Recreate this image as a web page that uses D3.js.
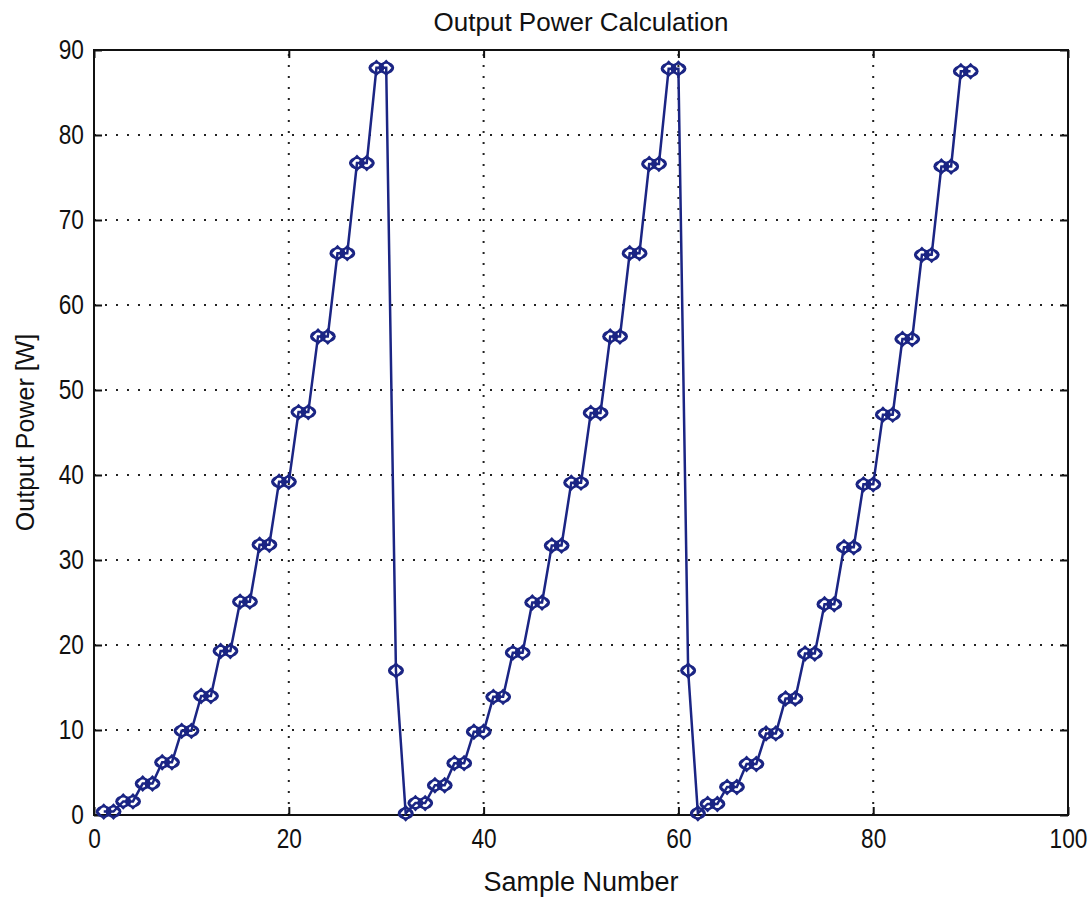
<!DOCTYPE html>
<html lang="en">
<head>
  <meta charset="UTF-8">
  <title>Output Power Calculation</title>
  <script src="https://d3js.org/d3.v7.min.js"></script>
  <style>
    body { margin: 0; background: #fff; }
    text { font-family: "Liberation Sans", Arial, sans-serif; fill: #111; }
  </style>
</head>
<body>
  <script>
    // output power per sample (samples are 1..90)
    const power = [
      0.4, 0.4, 1.6, 1.6, 3.7, 3.7, 6.2, 6.2, 9.9, 9.9,
      14.0, 14.0, 19.3, 19.3, 25.1, 25.1, 31.8, 31.8, 39.2, 39.2,
      47.4, 47.4, 56.3, 56.3, 66.1, 66.1, 76.7, 76.7, 87.9, 87.9,
      17.0, 0.2, 1.4, 1.4, 3.5, 3.5, 6.1, 6.1, 9.8, 9.8,
      13.9, 13.9, 19.1, 19.1, 25.0, 25.0, 31.7, 31.7, 39.1, 39.1,
      47.3, 47.3, 56.3, 56.3, 66.1, 66.1, 76.6, 76.6, 87.8, 87.8,
      17.0, 0.2, 1.3, 1.3, 3.3, 3.3, 6.0, 6.0, 9.6, 9.6,
      13.7, 13.7, 19.0, 19.0, 24.8, 24.8, 31.5, 31.5, 38.9, 38.9,
      47.1, 47.1, 56.0, 56.0, 65.9, 65.9, 76.3, 76.3, 87.5, 87.5
    ];
    const sampleNumber = power.map((d, i) => i + 1);

    const xTicks = [0, 20, 40, 60, 80, 100];
    const yTicks = [0, 10, 20, 30, 40, 50, 60, 70, 80, 90];

    const data = sampleNumber.map((s, i) => ({ x: s, y: power[i] }));

    const plotLeft = 94, plotRight = 1068, plotTop = 50, plotBottom = 815;
    const lineColor = "#1b2584";

    const svg = d3.select("body").append("svg")
      .attr("width", 1092)
      .attr("height", 901);

    const x = d3.scaleLinear().domain([0, 100]).range([plotLeft, plotRight]);
    const y = d3.scaleLinear().domain([0, 90]).range([plotBottom, plotTop]);

    // dotted grid
    svg.append("g").selectAll("line")
      .data(xTicks.slice(1, -1))
      .join("line")
      .attr("x1", d => x(d)).attr("x2", d => x(d))
      .attr("y1", plotBottom).attr("y2", plotTop)
      .attr("stroke", "#222").attr("stroke-width", 2)
      .attr("stroke-dasharray", "2,9");

    svg.append("g").selectAll("line")
      .data(yTicks.slice(1, -1))
      .join("line")
      .attr("x1", plotLeft).attr("x2", plotRight)
      .attr("y1", d => y(d)).attr("y2", d => y(d))
      .attr("stroke", "#222").attr("stroke-width", 2)
      .attr("stroke-dasharray", "2,9");

    // axes, matlab style with inward ticks on all sides
    const xAxis = svg.append("g")
      .attr("transform", "translate(0," + plotBottom + ")")
      .call(d3.axisBottom(x).tickValues(xTicks).tickSize(-8).tickPadding(14).tickSizeOuter(0));
    const yAxis = svg.append("g")
      .attr("transform", "translate(" + plotLeft + ",0)")
      .call(d3.axisLeft(y).tickValues(yTicks).tickSize(-8).tickPadding(12).tickSizeOuter(0));
    svg.append("g")
      .attr("transform", "translate(0," + plotTop + ")")
      .call(d3.axisTop(x).tickValues(xTicks).tickSize(-8).tickFormat("").tickSizeOuter(0));
    svg.append("g")
      .attr("transform", "translate(" + plotRight + ",0)")
      .call(d3.axisRight(y).tickValues(yTicks).tickSize(-8).tickFormat("").tickSizeOuter(0));

    svg.selectAll(".domain").remove();
    svg.selectAll(".tick line").attr("stroke", "#111").attr("stroke-width", 2);

    xAxis.selectAll("text")
      .attr("font-size", 27)
      .attr("transform", "scale(0.84,1)")
      .attr("dy", "0.72em");
    yAxis.selectAll("text")
      .attr("font-size", 27)
      .attr("transform", "scale(0.84,1)");

    // box
    svg.append("rect")
      .attr("x", plotLeft).attr("y", plotTop)
      .attr("width", plotRight - plotLeft).attr("height", plotBottom - plotTop)
      .attr("fill", "none").attr("stroke", "#111").attr("stroke-width", 2);

    // line
    const line = d3.line().x(d => x(d.x)).y(d => y(d.y));
    svg.append("path")
      .datum(data)
      .attr("d", line)
      .attr("fill", "none")
      .attr("stroke", lineColor)
      .attr("stroke-width", 2.5);

    // markers: circle + diamond
    const marks = svg.append("g").selectAll("g")
      .data(data)
      .join("g")
      .attr("transform", d => "translate(" + x(d.x) + "," + y(d.y) + ")");
    marks.append("ellipse")
      .attr("rx", 7).attr("ry", 5)
      .attr("fill", "none").attr("stroke", lineColor).attr("stroke-width", 2);
    marks.append("path")
      .attr("d", "M0,-7L6.5,0L0,7L-6.5,0Z")
      .attr("fill", "none").attr("stroke", lineColor).attr("stroke-width", 2);

    // title and labels
    svg.append("text")
      .attr("x", (plotLeft + plotRight) / 2).attr("y", 31)
      .attr("text-anchor", "middle")
      .attr("font-size", 26)
      .text("Output Power Calculation");

    svg.append("text")
      .attr("x", (plotLeft + plotRight) / 2).attr("y", 891)
      .attr("text-anchor", "middle")
      .attr("font-size", 27)
      .text("Sample Number");

    svg.append("text")
      .attr("transform", "translate(34," + (plotBottom + plotTop) / 2 + ") rotate(-90)")
      .attr("text-anchor", "middle")
      .attr("font-size", 25)
      .text("Output Power [W]");
  </script>
</body>
</html>
